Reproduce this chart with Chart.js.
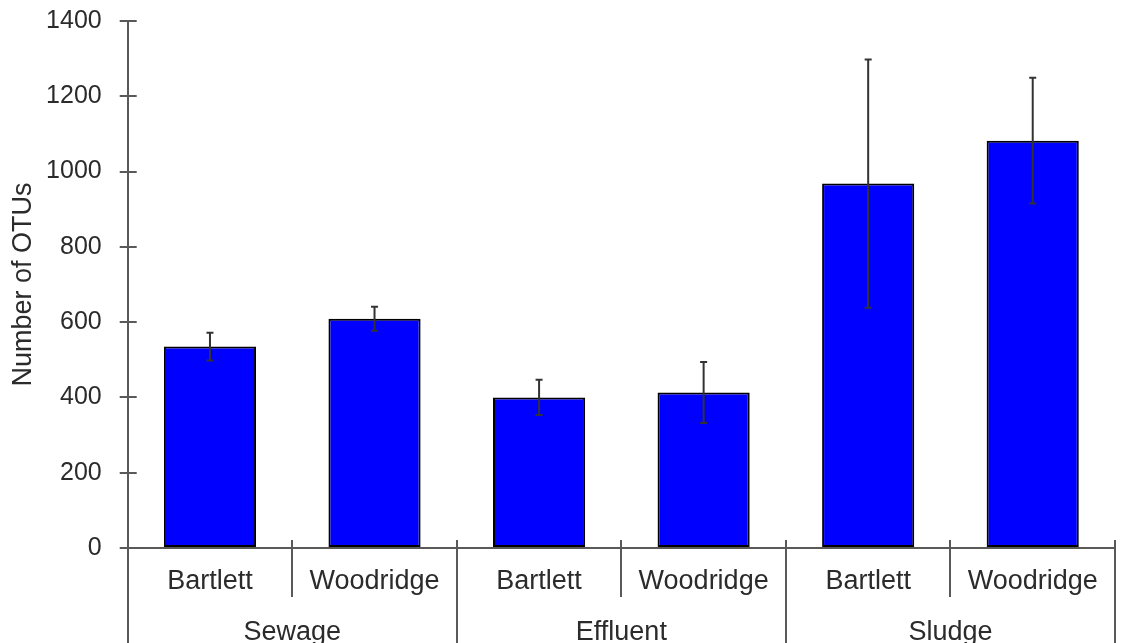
<!DOCTYPE html>
<html>
<head>
<meta charset="utf-8">
<title>Number of OTUs</title>
<script src="https://cdn.jsdelivr.net/npm/chart.js@4/dist/chart.umd.min.js"></script>
<style>
    html, body { margin: 0; padding: 0; background: #ffffff; }
    #wrap { width: 1129px; height: 643px; }
</style>
</head>
<body>
<div id="wrap"><canvas id="otuChart" width="1129" height="643"></canvas></div>
<script>
const groups = ["Sewage", "Effluent", "Sludge"];
const sites = ["Bartlett", "Woodridge", "Bartlett", "Woodridge", "Bartlett", "Woodridge"];
const otuMeans = [535, 609, 400, 413, 968, 1082];
const otuErrors = [37, 32, 47, 81, 330, 167];
const yTickValues = [0, 200, 400, 600, 800, 1000, 1200, 1400];

const axisColor = "#595959";
const textColor = "#2b2b2b";
const fontFamily = "'Liberation Sans', Arial, sans-serif";

// whiskers on top of each bar
const errorBars = {
    id: "errorBars",
    afterDatasetsDraw(chart) {
        const ctx = chart.ctx;
        const y = chart.scales.y;
        const meta = chart.getDatasetMeta(0);
        ctx.save();
        ctx.strokeStyle = "#333333";
        ctx.lineWidth = 2;
        meta.data.forEach((bar, i) => {
            const hi = y.getPixelForValue(otuMeans[i] + otuErrors[i]);
            const lo = y.getPixelForValue(otuMeans[i] - otuErrors[i]);
            const cap = 3.5;
            ctx.beginPath();
            ctx.moveTo(bar.x, hi);
            ctx.lineTo(bar.x, lo);
            ctx.moveTo(bar.x - cap, hi);
            ctx.lineTo(bar.x + cap, hi);
            ctx.moveTo(bar.x - cap, lo);
            ctx.lineTo(bar.x + cap, lo);
            ctx.stroke();
        });
        ctx.restore();
    }
};

// tick marks that cross the axis lines (inner halves)
const crossTicks = {
    id: "crossTicks",
    afterDraw(chart) {
        const ctx = chart.ctx;
        const x = chart.scales.x;
        const y = chart.scales.y;
        const area = chart.chartArea;
        ctx.save();
        ctx.strokeStyle = axisColor;
        ctx.lineWidth = 2;
        ctx.beginPath();
        yTickValues.forEach(v => {
            const py = Math.round(y.getPixelForValue(v));
            ctx.moveTo(area.left, py);
            ctx.lineTo(area.left + 9, py);
        });
        for (let i = 1; i <= sites.length; i++) {
            const px = Math.round(x.getPixelForValue(i - 0.5));
            ctx.moveTo(px, area.bottom);
            ctx.lineTo(px, area.bottom - 8);
        }
        ctx.stroke();
        ctx.restore();
    }
};

const ctx = document.getElementById("otuChart").getContext("2d");
const otuChart = new Chart(ctx, {
    type: "bar",
    data: {
        labels: sites,
        datasets: [
            {
                label: "Number of OTUs",
                data: otuMeans,
                backgroundColor: "#0000ff",
                borderColor: "#000000",
                borderWidth: 2,
                borderSkipped: false,
                barPercentage: 0.56,
                categoryPercentage: 1
            }
        ]
    },
    options: {
        responsive: false,
        animation: false,
        layout: {
            padding: { top: 21, right: 14, bottom: 0, left: 1 }
        },
        plugins: {
            legend: { display: false },
            tooltip: { enabled: false }
        },
        scales: {
            x: {
                weight: 0,
                offset: true,
                afterFit: scale => { scale.height = 49; },
                grid: {
                    offset: true,
                    drawOnChartArea: false,
                    drawTicks: true,
                    tickLength: 49,
                    color: axisColor,
                    lineWidth: 2
                },
                border: { display: true, color: axisColor, width: 2 },
                ticks: {
                    autoSkip: false,
                    maxRotation: 0,
                    padding: -32,
                    color: textColor,
                    font: { family: fontFamily, size: 27 }
                }
            },
            x2: {
                type: "category",
                position: "bottom",
                weight: 1,
                labels: groups,
                offset: true,
                afterFit: scale => { scale.height = 46; },
                grid: {
                    offset: true,
                    drawOnChartArea: false,
                    drawTicks: true,
                    tickLength: 46,
                    color: axisColor,
                    lineWidth: 2
                },
                border: { display: false },
                ticks: {
                    autoSkip: false,
                    maxRotation: 0,
                    padding: -27,
                    color: textColor,
                    font: { family: fontFamily, size: 27 }
                }
            },
            y: {
                min: 0,
                max: 1400,
                afterBuildTicks: scale => {
                    scale.ticks = yTickValues.map(v => ({ value: v }));
                },
                afterFit: scale => {
                    scale.width = 126.7;
                    scale.paddingTop = 0;
                    scale.paddingBottom = 0;
                },
                grid: {
                    drawOnChartArea: false,
                    drawTicks: true,
                    tickLength: 8,
                    color: axisColor,
                    lineWidth: 2
                },
                border: { display: true, color: axisColor, width: 2 },
                ticks: {
                    padding: 18,
                    color: textColor,
                    font: { family: fontFamily, size: 25 },
                    callback: value => String(value)
                },
                title: {
                    display: true,
                    text: "Number of OTUs",
                    color: textColor,
                    padding: { top: 6.3, bottom: 6.3 },
                    font: { family: fontFamily, size: 27 }
                }
            }
        }
    },
    plugins: [errorBars, crossTicks]
});
</script>
</body>
</html>
